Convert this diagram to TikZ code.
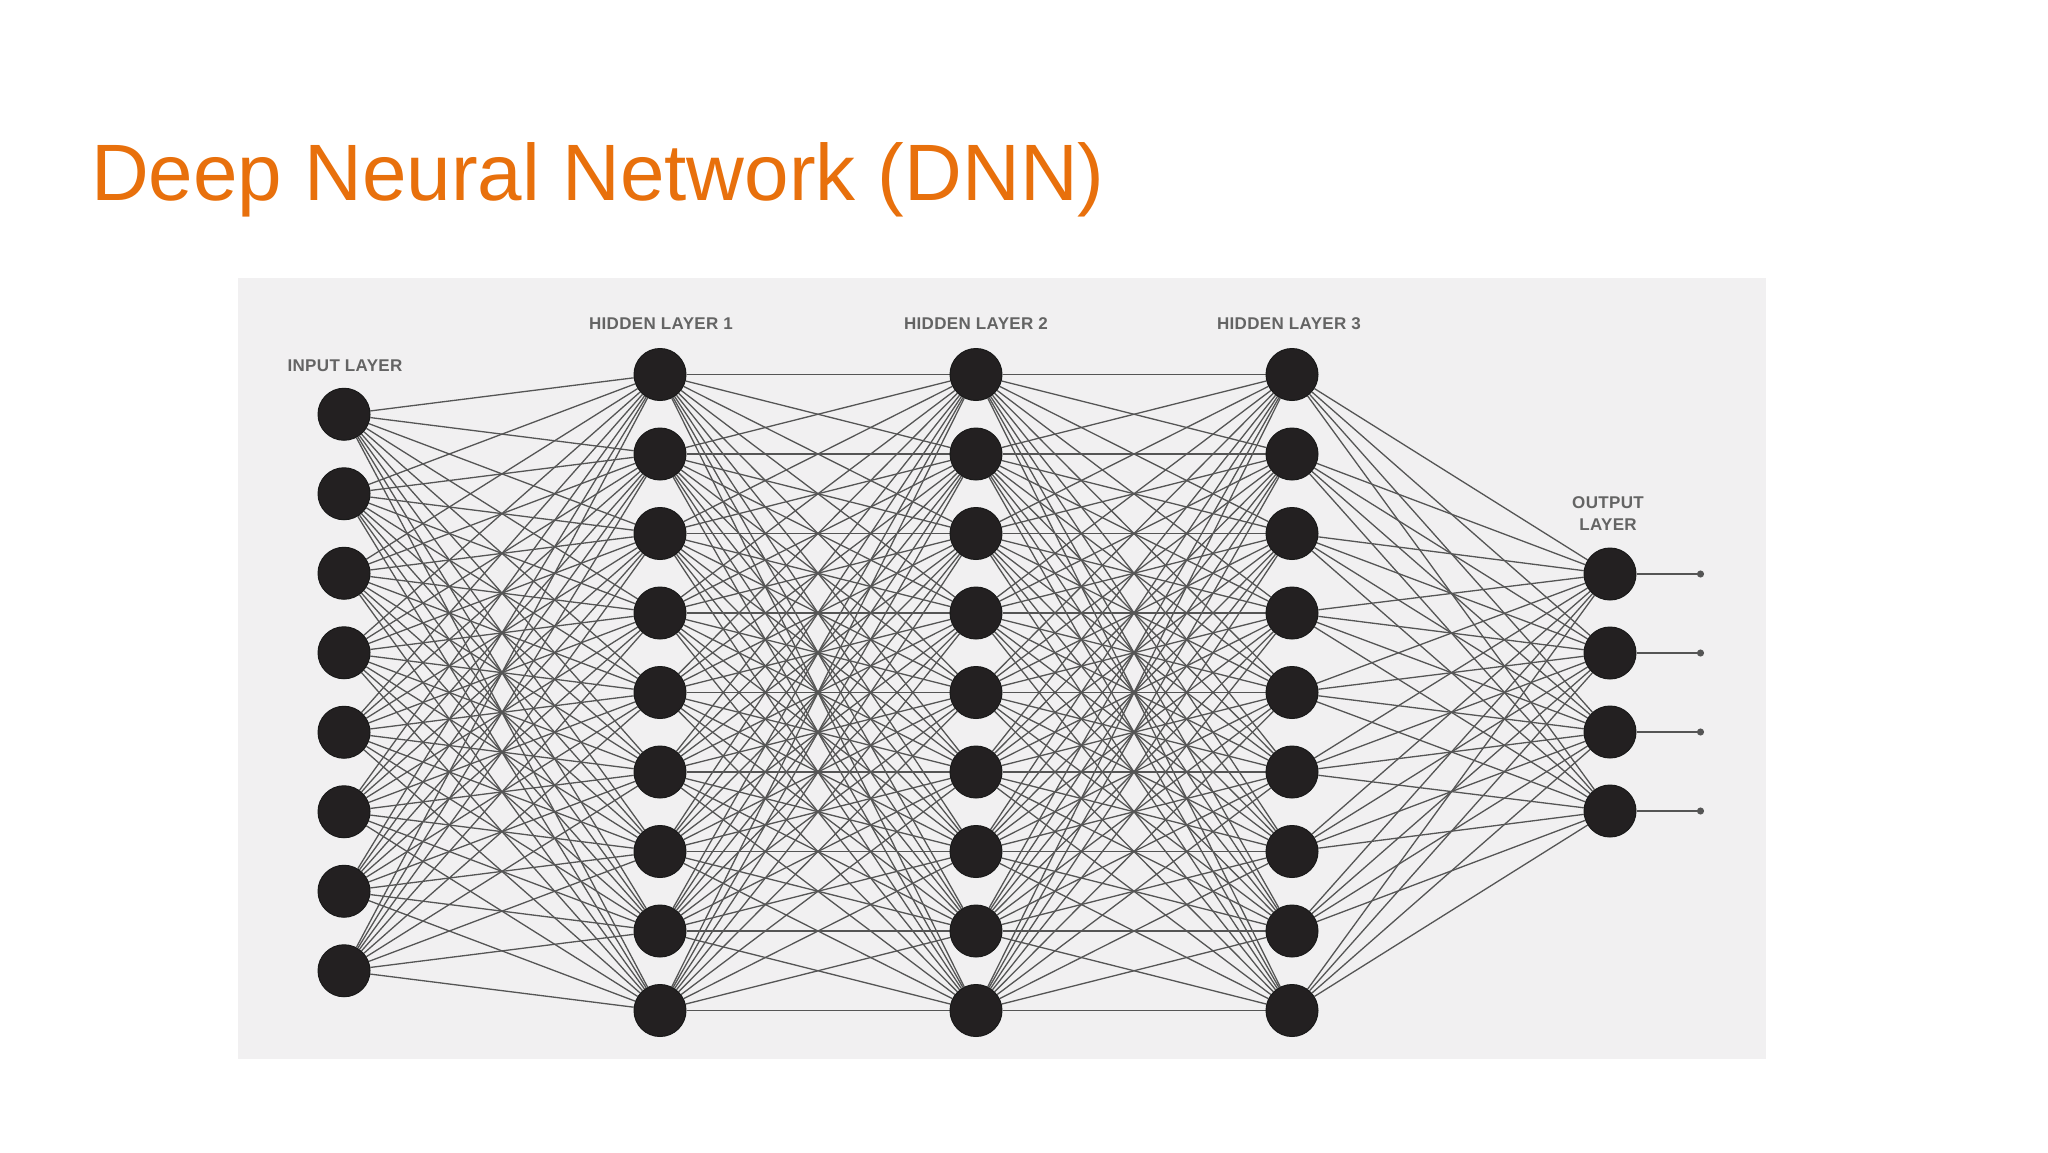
\documentclass[tikz,border=0pt]{standalone}
\usepackage{fontspec}
\setmainfont{Liberation Sans}
\usetikzlibrary{arrows.meta,backgrounds}
\definecolor{titleorange}{RGB}{232,112,12}
\definecolor{panelgray}{RGB}{241,240,241}
\definecolor{nodefill}{RGB}{35,32,33}
\definecolor{edgegray}{RGB}{85,85,85}
\definecolor{labelgray}{RGB}{100,100,100}
\begin{document}
\begin{tikzpicture}[x=1pt,y=-1pt,
  neuron/.style={circle,fill=nodefill,draw=black!90,line width=1pt,minimum size=52pt,inner sep=0pt},
  conn/.style={draw=edgegray,line width=1.3pt},
  lbl/.style={text=labelgray,font=\fontsize{17}{22}\selectfont\bfseries\addfontfeature{LetterSpace=2},align=center,inner sep=0pt}]
\useasboundingbox (0,0) rectangle (2048,1152);
\node[anchor=base west,text=titleorange,font=\fontsize{80}{96}\selectfont,inner sep=0pt] (title) at (91,200) {Deep Neural Network (DNN)};
% neurons
\foreach \i in {1,...,8} \node[neuron] (I\i) at (344,{692.5+(\i-4.5)*79.5}) {};
\foreach \L/\x in {A/660,B/976,C/1292}
  \foreach \i in {1,...,9} \node[neuron] (\L\i) at (\x,{692.5+(\i-5)*79.5}) {};
\foreach \i in {1,...,4} \node[neuron] (O\i) at (1610,{692.5+(\i-2.5)*79}) {};
% labels
\node[lbl] (lin) at (345,366) {INPUT LAYER};
\node[lbl] (lh1) at (661,324) {HIDDEN LAYER 1};
\node[lbl] (lh2) at (976,324) {HIDDEN LAYER 2};
\node[lbl] (lh3) at (1289,324) {HIDDEN LAYER 3};
\node[lbl] (lout) at (1608,514) {OUTPUT\\LAYER};
% output ends
\foreach \i in {1,...,4} \coordinate (E\i) at (1704,{692.5+(\i-2.5)*79});
\begin{pgfonlayer}{background}
\fill[white] (0,0) rectangle (2048,1152);
\fill[panelgray] (238,278) rectangle (1766,1059);
\foreach \i in {1,...,8} \foreach \j in {1,...,9} \draw[conn] (I\i) -- (A\j);
\foreach \i in {1,...,9} \foreach \j in {1,...,9} \draw[conn] (A\i) -- (B\j);
\foreach \i in {1,...,9} \foreach \j in {1,...,9} \draw[conn] (B\i) -- (C\j);
\foreach \i in {1,...,9} \foreach \j in {1,...,4} \draw[conn] (C\i) -- (O\j);
\foreach \i in {1,...,4} \draw[conn,-{Circle[length=7pt]}] (O\i) -- (E\i);
\end{pgfonlayer}
\end{tikzpicture}
\end{document}
